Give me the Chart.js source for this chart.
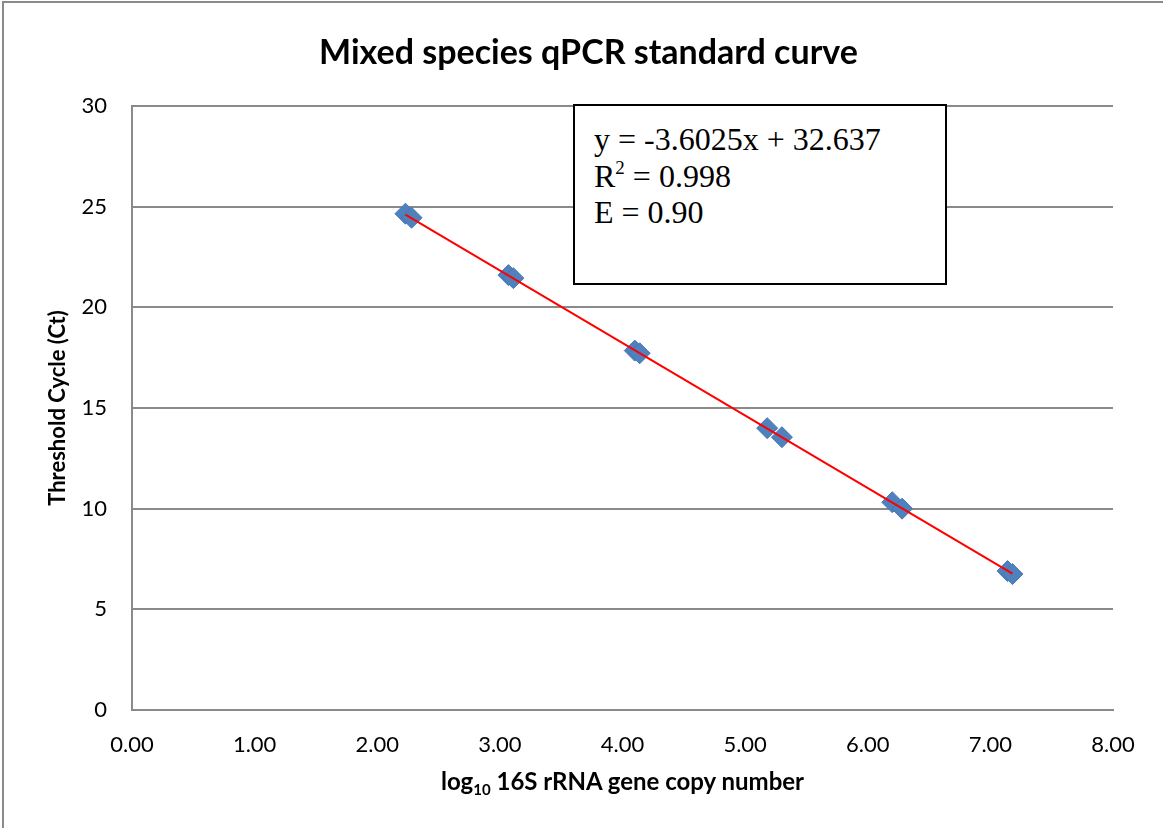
<!DOCTYPE html>
<html>
<head>
<meta charset="utf-8">
<script src="https://cdn.jsdelivr.net/npm/chart.js@4.4.0/dist/chart.umd.min.js"></script>
<style>
  html, body { margin: 0; padding: 0; background: #fff; overflow: hidden; }
  #wrap { position: relative; width: 1163px; height: 828px; }
  #frame { position: absolute; left: 2px; top: 1px; width: 1200px; height: 900px; border: 2px solid #8a8a8a; box-sizing: border-box; pointer-events: none; }
  canvas { position: absolute; left: 0; top: 0; }
  #eq { position: absolute; left: 573px; top: 104px; width: 374px; height: 181px; box-sizing: border-box;
        border: 2px solid #000; background: #fff; font-family: "Liberation Serif", "Times New Roman", serif;
        font-size: 32px; line-height: 36.5px; color: #000; padding: 15px 0 0 19px; }
  #eq sup { font-size: 19px; vertical-align: 13px; line-height: 0; }
  #xt { position: absolute; left: 132px; width: 981px; top: 766px; text-align: center;
        font-family: Lato, "Open Sans", sans-serif; font-weight: bold; font-size: 24px; color: #000; }
  #xt sub { font-size: 15px; vertical-align: -5px; line-height: 0; }
</style>
</head>
<body>
<div id="wrap">
  <canvas id="c" width="1163" height="828"></canvas>
  <div id="frame"></div>
  <div id="eq">y = -3.6025x + 32.637<br>R<sup>2</sup> = 0.998<br>E = 0.90</div>
  <div id="xt">log<sub>10</sub> 16S rRNA gene copy number</div>
</div>
<script>
// Data
const titleText = "Mixed species qPCR standard curve";
const yAxisTitle = "Threshold Cycle (Ct)";
const logCopies = [2.23, 2.28, 3.07, 3.11, 4.10, 4.14, 5.18, 5.30, 6.20, 6.28, 7.14, 7.18];
const ctValues  = [24.65, 24.45, 21.60, 21.45, 17.85, 17.72, 14.00, 13.55, 10.32, 10.00, 6.90, 6.75];
const trendX = [2.23, 7.18];
const trendY = [24.60, 6.77];
const xTicks = [0, 1, 2, 3, 4, 5, 6, 7, 8];
const yTicks = [0, 5, 10, 15, 20, 25, 30];

const points = logCopies.map((x, i) => ({ x: x, y: ctValues[i] }));
const trend = trendX.map((x, i) => ({ x: x, y: trendY[i] }));
const FONT = 'Lato, "Open Sans", sans-serif';

new Chart(document.getElementById('c'), {
  type: 'scatter',
  data: {
    datasets: [
      {
        label: 'Linear fit',
        data: trend,
        showLine: true,
        borderColor: '#ff0000',
        borderWidth: 2,
        pointRadius: 0,
        fill: false,
        order: 0
      },
      {
        label: 'Standards',
        data: points,
        pointStyle: 'rectRot',
        pointRadius: 10.5,
        pointHoverRadius: 10.5,
        backgroundColor: '#4f81bd',
        borderColor: '#4677b2',
        borderWidth: 1,
        order: 1
      }
    ]
  },
  options: {
    responsive: false,
    animation: false,
    events: [],
    layout: { padding: { left: 14, right: 0, top: 0, bottom: 0 } },
    plugins: {
      legend: { display: false },
      tooltip: { enabled: false },
      title: {
        display: true,
        text: titleText,
        color: '#000',
        font: { family: FONT, size: 34, weight: 'bold', lineHeight: 1.2 },
        padding: { top: 33, bottom: 32.2 }
      }
    },
    scales: {
      x: {
        type: 'linear',
        min: 0, max: 8,
        afterBuildTicks: s => { s.ticks = xTicks.map(v => ({ value: v })); },
        afterFit: s => { s.height = 118; },
        ticks: {
          color: '#000',
          padding: 22,
          font: { family: FONT, size: 22 },
          callback: v => Number(v).toFixed(2)
        },
        grid: { display: true, color: 'rgba(0,0,0,0)', drawTicks: false },
        border: { display: true, color: '#8a8a8a', width: 2 }
      },
      y: {
        type: 'linear',
        min: 0, max: 30,
        afterBuildTicks: s => { s.ticks = yTicks.map(v => ({ value: v })); },
        afterFit: s => { s.width = 118; },
        ticks: {
          color: '#000',
          padding: 25,
          font: { family: FONT, size: 22 }
        },
        grid: { color: '#8a8a8a', lineWidth: 2, drawTicks: false },
        border: { display: true, color: '#8a8a8a', width: 2 },
        title: {
          display: true,
          text: yAxisTitle,
          color: '#000',
          font: { family: FONT, size: 22, weight: 'bold', lineHeight: 1.2 },
          padding: { top: 31, bottom: 0 }
        }
      },
      spacer: {
        type: 'linear',
        position: 'right',
        display: true,
        afterFit: s => { s.width = 50; },
        ticks: { display: false },
        grid: { display: false, drawTicks: false },
        border: { display: false }
      }
    }
  }
});
</script>
</body>
</html>
